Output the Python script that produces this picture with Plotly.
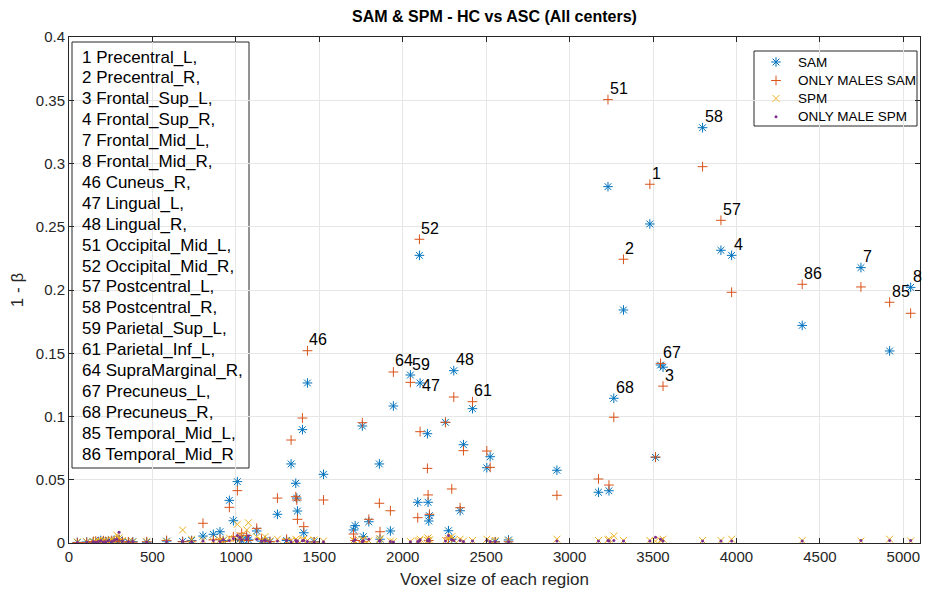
import plotly.graph_objects as go

# Voxel size of each AAL region and power (1 - beta) per method
voxels = [50, 106, 146, 160, 176, 190, 206, 220, 236, 256, 270, 286, 300, 320, 356, 382,
          466, 585, 681, 735, 803, 865, 905, 924, 961, 985, 1009, 1024, 1035, 1065, 1075,
          1125, 1154, 1175, 1204, 1249, 1304, 1331, 1359, 1365, 1369, 1399, 1407, 1429,
          1469, 1525,
          1705, 1715, 1758, 1764, 1797, 1860, 1864, 1926, 1944, 2046, 2090, 2100, 2104,
          2148, 2152, 2156, 2160, 2256, 2274, 2294, 2306, 2344, 2364, 2418, 2504, 2524,
          2554, 2634, 2924,
          3173, 3230, 3236, 3265, 3323, 3481, 3515, 3545, 3560, 3797, 3907, 3971, 4394,
          4746, 4918, 5044]

sam = [0.0005, 0.0008, 0.0010, 0.0006, 0.0012, 0.0020, 0.0015, 0.0008, 0.0018, 0.0012,
       0.0022, 0.0010, 0.0025, 0.0008, 0.0006, 0.0010,
       0.0006, 0.0015, 0.0012, 0.0020, 0.0055, 0.0069, 0.0089, 0.0020, 0.0337, 0.0176,
       0.0485, 0.0030, 0.0020, 0.0040, 0.0025,
       0.0095, 0.0015, 0.0020, 0.0010, 0.0227, 0.0020, 0.0625, 0.0472, 0.0355, 0.0253,
       0.0896, 0.0081, 0.1265,
       0.0010, 0.0543,
       0.0103, 0.0137, 0.0925, 0.0050, 0.0168, 0.0625, 0.0030, 0.0095, 0.1083, 0.1328,
       0.0322, 0.2274, 0.1265,
       0.0864, 0.0322, 0.0174, 0.0216, 0.0954, 0.0097, 0.0030, 0.1362, 0.0255, 0.0777,
       0.1062, 0.0595, 0.0682,
       0.0010, 0.0024, 0.0575,
       0.0401, 0.2817, 0.0413, 0.1144, 0.1842, 0.2522, 0.0677, 0.1407, 0.1390, 0.3283,
       0.2314, 0.2274, 0.1720,
       0.2177, 0.1518, 0.2021]

sam_males = [0.0003, 0.0005, 0.0012, 0.0015, 0.0008, 0.0010, 0.0018, 0.0012, 0.0010, 0.0020,
             0.0015, 0.0025, 0.0030, 0.0010, 0.0008, 0.0006,
             0.0010, 0.0020, 0.0010, 0.0015, 0.0156, 0.0025, 0.0030, 0.0012, 0.0282, 0.0050,
             0.0414, 0.0025, 0.0077, 0.0060, 0.0020,
             0.0116, 0.0030, 0.0015, 0.0012, 0.0355, 0.0030, 0.0814, 0.0366, 0.0340, 0.0187,
             0.0988, 0.0129, 0.1520,
             0.0008, 0.0340,
             0.0071, 0.0020, 0.0951, 0.0010, 0.0187, 0.0314, 0.0089, 0.0255, 0.1352, 0.1270,
             0.0200, 0.2401, 0.0880,
             0.0590, 0.0380, 0.0020, 0.0227, 0.0954, 0.0040, 0.0427, 0.1154, 0.0279, 0.0730,
             0.1117, 0.0727, 0.0598,
             0.0008, 0.0010, 0.0377,
             0.0506, 0.3505, 0.0458, 0.0994, 0.2243, 0.2836, 0.0680, 0.1420, 0.1240, 0.2975,
             0.2551, 0.1982, 0.2045,
             0.2024, 0.1903, 0.1816]

spm = [0.0008, 0.0010, 0.0006, 0.0012, 0.0015, 0.0009, 0.0020, 0.0016, 0.0012, 0.0025,
       0.0018, 0.0063, 0.0040, 0.0020, 0.0012, 0.0008,
       0.0012, 0.0010, 0.0103, 0.0030, 0.0020, 0.0015, 0.0025, 0.0018, 0.0040, 0.0030,
       0.0148, 0.0060, 0.0035, 0.0103, 0.0160,
       0.0050, 0.0020, 0.0050, 0.0015, 0.0030, 0.0012, 0.0020, 0.0030, 0.0015, 0.0020,
       0.0025, 0.0030, 0.0020,
       0.0024, 0.0015,
       0.0020, 0.0015, 0.0025, 0.0030, 0.0018, 0.0020, 0.0035, 0.0015, 0.0010, 0.0012,
       0.0015, 0.0018, 0.0030,
       0.0020, 0.0040, 0.0015, 0.0025, 0.0020, 0.0035, 0.0050, 0.0025, 0.0030, 0.0015,
       0.0020, 0.0030, 0.0015,
       0.0020, 0.0015, 0.0030,
       0.0020, 0.0025, 0.0030, 0.0055, 0.0020, 0.0020, 0.0015, 0.0020, 0.0030, 0.0020,
       0.0020, 0.0030, 0.0020,
       0.0015, 0.0030, 0.0015]

spm_males = [0.0004, 0.0005, 0.0010, 0.0006, 0.0012, 0.0015, 0.0008, 0.0010, 0.0018, 0.0012,
             0.0020, 0.0030, 0.0085, 0.0015, 0.0010, 0.0012,
             0.0008, 0.0012, 0.0015, 0.0010, 0.0015, 0.0020, 0.0012, 0.0025, 0.0020, 0.0035,
             0.0060, 0.0045, 0.0025, 0.0030, 0.0055,
             0.0030, 0.0015, 0.0020, 0.0010, 0.0015, 0.0020, 0.0010, 0.0020, 0.0012, 0.0015,
             0.0018, 0.0020, 0.0012,
             0.0010, 0.0010,
             0.0015, 0.0025, 0.0012, 0.0020, 0.0030, 0.0015, 0.0020, 0.0012, 0.0008, 0.0010,
             0.0012, 0.0015, 0.0025,
             0.0018, 0.0020, 0.0030, 0.0015, 0.0015, 0.0060, 0.0025, 0.0020, 0.0020, 0.0012,
             0.0015, 0.0020, 0.0012,
             0.0012, 0.0010, 0.0015,
             0.0015, 0.0020, 0.0015, 0.0020, 0.0015, 0.0015, 0.0045, 0.0030, 0.0015, 0.0015,
             0.0015, 0.0015, 0.0015,
             0.0020, 0.0020, 0.0020]

# Region numbers written next to the regions with the highest power
labelled_regions = {1429: "46", 1944: "64", 2046: "59", 2100: "52", 2104: "47",
                    2306: "48", 2418: "61", 3230: "51", 3265: "68", 3323: "2",
                    3481: "1", 3545: "67", 3560: "3", 3797: "58", 3907: "57",
                    3971: "4", 4394: "86", 4746: "7", 4918: "85", 5044: "8"}

region_names = ["1 Precentral_L,", "2 Precentral_R,", "3 Frontal_Sup_L,", "4 Frontal_Sup_R,",
                "7 Frontal_Mid_L,", "8 Frontal_Mid_R,", "46 Cuneus_R,", "47 Lingual_L,",
                "48 Lingual_R,", "51 Occipital_Mid_L,", "52 Occipital_Mid_R,",
                "57 Postcentral_L,", "58 Postcentral_R,", "59 Parietal_Sup_L,",
                "61 Parietal_Inf_L,", "64 SupraMarginal_R,", "67 Precuneus_L,",
                "68 Precuneus_R,", "85 Temporal_Mid_L,", "86 Temporal_Mid_R"]

x_ticks = [0, 500, 1000, 1500, 2000, 2500, 3000, 3500, 4000, 4500, 5000]
y_ticks = [0, 0.05, 0.1, 0.15, 0.2, 0.25, 0.3, 0.35, 0.4]

FONT = "Liberation Sans, Arial, Helvetica, sans-serif"
AX = "#262626"

# Plot area in pixels, used to place the boxes in paper coordinates
PLOT_L, PLOT_R, PLOT_T, PLOT_B = 69, 920, 37, 543


def px(xp):
    return (xp - PLOT_L) / (PLOT_R - PLOT_L)


def py(yp):
    return (PLOT_B - yp) / (PLOT_B - PLOT_T)


series = [
    ("SAM", sam, "asterisk-open", "#0072BD", 8, 1.0),
    ("ONLY MALES SAM", sam_males, "cross-thin-open", "#D95319", 7, 1.0),
    ("SPM", spm, "x-thin-open", "#EDB120", 7, 1.0),
    ("ONLY MALE SPM", spm_males, "circle", "#7E2F8E", 3, 0),
]

fig = go.Figure()
for name, vals, sym, col, size, lw in series:
    fig.add_trace(go.Scatter(
        x=voxels, y=vals, mode="markers", name=name, showlegend=False,
        marker=dict(symbol=sym, color=col, size=size, line=dict(color=col, width=lw)),
    ))

# Region number labels, placed just above the higher of the two SAM values
label_nudge = {"47": -0.011, "3": -0.015}
for vx, num in labelled_regions.items():
    i = voxels.index(vx)
    top = max(sam[i], sam_males[i])
    fig.add_annotation(x=vx, y=top + 0.0087 + label_nudge.get(num, 0), text=num,
                       showarrow=False, xanchor="left", yanchor="middle",
                       font=dict(family=FONT, size=16, color="black"))

# Box listing the region names
fig.add_shape(type="rect", xref="paper", yref="paper", x0=px(72), x1=px(249),
              y0=py(468), y1=py(42), line=dict(color=AX, width=1), fillcolor="white",
              layer="between")
for k, line in enumerate(region_names):
    fig.add_annotation(x=px(80), y=py(57 + 20.9 * k), xref="paper", yref="paper",
                       text=line, showarrow=False, xanchor="left", yanchor="middle",
                       font=dict(family=FONT, size=17, color="black"))

# Legend box drawn on an overlay axis spanning the plot area (0..1 in both directions)
fig.add_shape(type="rect", xref="paper", yref="paper", x0=px(754), x1=px(917),
              y0=py(126), y1=py(51), line=dict(color=AX, width=1), fillcolor="white",
              layer="between")
leg_rows = [62, 80.5, 98.5, 116.7]
for (name, _, sym, col, size, lw), ry in zip(series, leg_rows):
    fig.add_trace(go.Scatter(
        x=[px(776)], y=[py(ry)], xaxis="x2", yaxis="y2", mode="markers",
        showlegend=False, hoverinfo="skip",
        marker=dict(symbol=sym, color=col, size=size, line=dict(color=col, width=lw)),
    ))
    fig.add_annotation(x=px(796), y=py(ry), xref="paper", yref="paper", text=name,
                       showarrow=False, xanchor="left", yanchor="middle",
                       font=dict(family=FONT, size=13.5, color="black"))

axis_common = dict(showgrid=True, gridcolor="#e6e6e6", gridwidth=1, zeroline=False,
                   showline=True, linecolor=AX, linewidth=1, mirror="ticks",
                   ticks="inside", ticklen=5, tickcolor=AX,
                   tickfont=dict(family=FONT, size=15, color=AX))

fig.update_layout(
    width=926, height=598,
    margin=dict(l=PLOT_L, r=926 - PLOT_R, t=PLOT_T, b=598 - PLOT_B),
    paper_bgcolor="white", plot_bgcolor="white",
    title=dict(text="<b>SAM & SPM - HC vs ASC (All centers)</b>", x=0.534, xanchor="center",
               y=0.972, yanchor="middle", font=dict(family=FONT, size=16, color="black")),
    xaxis=dict(range=[0, 5100], tickvals=x_ticks,
               title=dict(text="Voxel size of each region", standoff=9,
                          font=dict(family=FONT, size=17, color=AX)),
               **axis_common),
    yaxis=dict(range=[0, 0.4], tickvals=y_ticks, ticktext=[f"{v:g}" for v in y_ticks],
               title=dict(text="1 - β", standoff=7,
                          font=dict(family=FONT, size=17, color=AX)),
               **axis_common),
    xaxis2=dict(overlaying="x", range=[0, 1], visible=False, fixedrange=True),
    yaxis2=dict(overlaying="y", range=[0, 1], visible=False, fixedrange=True),
    showlegend=False,
)

fig.write_html("out.html")
